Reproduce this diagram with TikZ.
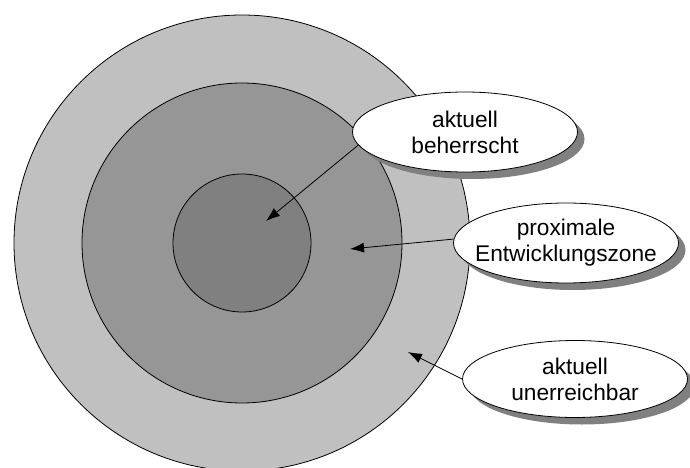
\documentclass[tikz,border=0pt]{standalone}
\usepackage{fontspec}
\setmainfont{Liberation Sans}
\usepackage{tikz}
\usetikzlibrary{arrows.meta,shapes,shadows,positioning}
\definecolor{ringouter}{RGB}{192,192,192}
\definecolor{ringmid}{RGB}{150,150,150}
\definecolor{ringinner}{RGB}{128,128,128}
\tikzstyle{zone}=[draw=black,line width=0.8pt]
\tikzstyle{label}=[ellipse,draw=black,fill=white,line width=0.8pt,minimum width=225pt,minimum height=80pt,inner xsep=-13pt,inner ysep=0pt,align=center,font=\fontsize{22.7}{26}\selectfont,drop shadow={shadow xshift=7pt,shadow yshift=-7pt,fill=ringinner,opacity=1}]
\tikzstyle{pointer}=[-{Latex[length=14pt,width=10pt]},line width=0.8pt]

\begin{document}
\begin{tikzpicture}[x=1pt,y=-1pt]
      \useasboundingbox (0,0) rectangle (690,468);
      \coordinate (m) at (242,243);
      \fill[ringouter,zone] (m) circle (228pt);
      \fill[ringmid,zone] (m) circle (160pt);
      \fill[ringinner,zone] (m) circle (69pt);
      \node[label] at (465,132) (beherrscht) {aktuell\\beherrscht};
      \node[label] at (566,243) (proximal) {proximale\\Entwicklungszone};
      \node[label,minimum height=77pt] at (575,379) (unerreichbar) {aktuell\\unerreichbar};
      \coordinate (innen) at (266,221);
      \coordinate (mitte) at (350,249);
      \coordinate (aussen) at (408,352);
      \draw[pointer] (beherrscht.187) -- (innen);
      \draw[pointer] (proximal.178) -- (mitte);
      \draw[pointer] (unerreichbar.180) -- (aussen);
\end{tikzpicture}
\end{document}
